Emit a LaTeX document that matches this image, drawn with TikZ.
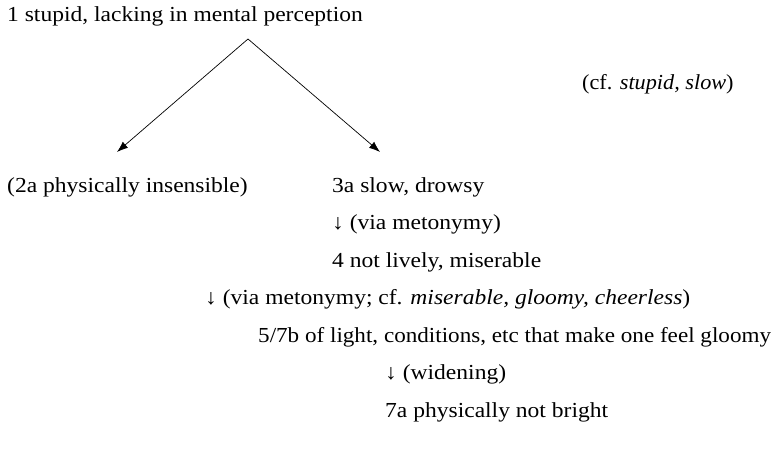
\documentclass[tikz,border=0pt]{standalone}
\usepackage{fontspec}
\setmainfont{Liberation Serif}[FakeStretch=1.1]
\newfontfamily\narrowserif{Liberation Serif}[FakeStretch=1.08]
\newfontfamily\cfserif{Liberation Serif}[FakeStretch=1.04]
\usetikzlibrary{arrows.meta}
\begin{document}
\begin{tikzpicture}[x=1pt,y=-1pt,
  lbl/.style={anchor=base west,inner sep=0pt,font=\fontsize{21.4}{24}\selectfont},
  conn/.style={line width=0.7pt,-{Latex[length=11pt,width=8pt]}}]
\useasboundingbox (0,0) rectangle (777,452);
\node[lbl] (n1) at (7,22) {1 stupid, lacking in mental perception};
\node[lbl,font=\cfserif\fontsize{21.4}{24}\selectfont] (cf) at (582,89) {(cf. \textit{stupid, slow})};
\node[lbl] (n2a) at (7,192) {(2a physically insensible)};
\node[lbl] (n3a) at (332,192) {3a slow, drowsy};
\node[lbl] (v1) at (332,229.5) {↓ (via metonymy)};
\node[lbl] (n4) at (332,267) {4 not lively, miserable};
\node[lbl] (v2) at (205,304.5) {↓ (via metonymy; cf. \textit{miserable, gloomy, cheerless})};
\node[lbl,font=\narrowserif\fontsize{21.4}{24}\selectfont] (n5) at (258,342) {5/7b of light, conditions, etc that make one feel gloomy};
\node[lbl] (v3) at (385,379.5) {↓ (widening)};
\node[lbl] (n7a) at (385,417) {7a physically not bright};
\coordinate (apex) at (248,39);
\coordinate (tipL) at (117,152);
\coordinate (tipR) at (380,152);
\draw[conn] (apex) -- (tipL);
\draw[conn] (apex) -- (tipR);
\end{tikzpicture}
\end{document}
